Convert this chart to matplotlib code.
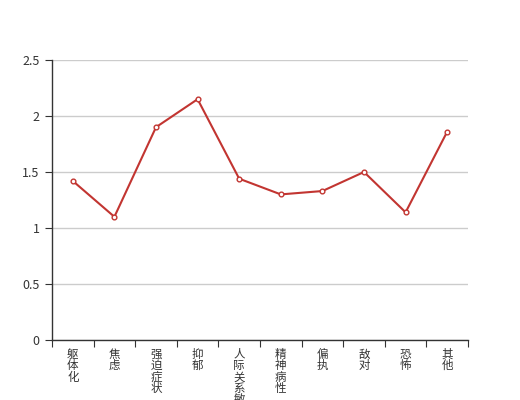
import matplotlib
matplotlib.use('Agg')
import matplotlib.pyplot as plt
from matplotlib.ticker import FormatStrFormatter, FixedLocator, NullFormatter

plt.rcParams['font.family'] = ['Noto Sans CJK SC', 'DejaVu Sans']

categories = ['躯体化', '焦虑', '强迫症状', '抑郁', '人际关系敏感',
              '精神病性', '偏执', '敌对', '恐怖', '其他']
values = [1.42, 1.10, 1.90, 2.15, 1.44, 1.30, 1.33, 1.50, 1.14, 1.86]
y_ticks = [0, 0.5, 1, 1.5, 2, 2.5]

fig = plt.figure(figsize=(5.2, 4.0), dpi=100)
ax = fig.add_axes([52 / 520, 60 / 400, 416 / 520, 280 / 400])

x = list(range(len(categories)))
ax.plot(x, values, color='#c23531', linewidth=1.5, marker='o', markersize=3.4,
        markerfacecolor='white', markeredgecolor='#c23531', markeredgewidth=1, zorder=3)

ax.set_xlim(-0.5, len(categories) - 0.5)
ax.set_ylim(0, 2.5)
ax.set_yticks(y_ticks)
ax.yaxis.set_major_formatter(FormatStrFormatter('%g'))
ax.grid(axis='y', color='#cccccc', linewidth=1)
ax.set_axisbelow(True)

# ticks between categories
ax.xaxis.set_major_locator(FixedLocator([i - 0.5 for i in range(len(categories) + 1)]))
ax.xaxis.set_major_formatter(NullFormatter())
ax.tick_params(axis='x', which='major', length=5, color='#333333', direction='out')
ax.tick_params(axis='y', length=5, color='#333333', labelsize=9, labelcolor='#333333', pad=4)

# vertical category labels, one character per line
pitch = 8.35  # points
for i, cat in enumerate(categories):
    for j, ch in enumerate(cat):
        ax.annotate(ch, xy=(i, 0), xycoords=('data', 'axes fraction'),
                    xytext=(0, -5.5 - j * pitch), textcoords='offset points',
                    ha='center', va='top', fontsize=8.3, color='#333333',
                    annotation_clip=False)

for s in ['top', 'right']:
    ax.spines[s].set_visible(False)
for s in ['left', 'bottom']:
    ax.spines[s].set_color('#333333')
    ax.spines[s].set_linewidth(1)

fig.savefig('out.png', dpi=100)
